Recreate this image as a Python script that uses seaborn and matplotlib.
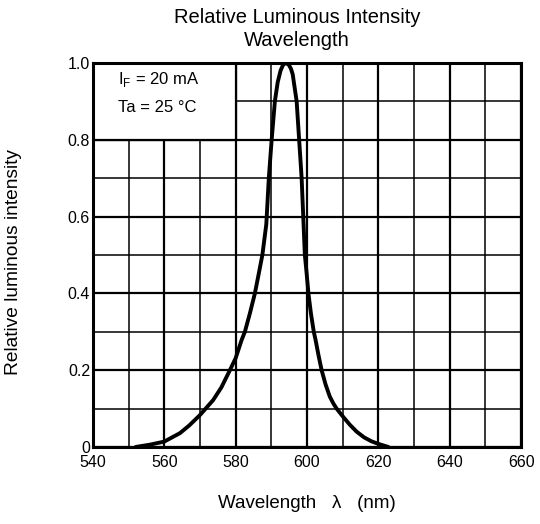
import numpy as np
import pandas as pd
import seaborn as sns
import matplotlib
matplotlib.use('Agg')
import matplotlib.pyplot as plt
from matplotlib.patches import Rectangle

# values
wavelength = [552, 556, 560, 562, 564.4, 567, 570, 573.7, 576, 578.4, 580, 581.7,
              582.6, 584.0, 585.4, 586.5, 587.5, 588.6, 589.3, 590.1, 591.0, 591.8,
              592.6, 593.3, 594.1, 594.9, 595.5, 596.0, 597.1, 597.8, 598.5, 598.95,
              599.4, 599.9, 600.4, 601.1, 601.9, 602.4, 603.2, 604.1, 605.2, 606.4,
              607.4, 608.3, 610, 612, 613.9, 616, 618, 620, 622.8]
intensity = [0, 0.006, 0.014, 0.024, 0.036, 0.056, 0.083, 0.122, 0.155, 0.20, 0.231, 0.279,
             0.30, 0.348, 0.40, 0.452, 0.50, 0.58, 0.70, 0.80, 0.90, 0.95,
             0.98, 0.995, 1.0, 0.995, 0.985, 0.97, 0.90, 0.80, 0.70, 0.60,
             0.50, 0.452, 0.40, 0.348, 0.30, 0.279, 0.24, 0.20, 0.163, 0.131,
             0.113, 0.10, 0.08, 0.058, 0.04, 0.025, 0.015, 0.008, 0]
x_ticks = [540, 560, 580, 600, 620, 640, 660]
y_ticks = [0, 0.2, 0.4, 0.6, 0.8, 1.0]
y_tick_labels = ['0', '0.2', '0.4', '0.6', '0.8', '1.0']

sns.set_style('white')
plt.rcParams['font.family'] = ['Liberation Sans', 'DejaVu Sans']
plt.rcParams['mathtext.fontset'] = 'custom'
plt.rcParams['mathtext.rm'] = 'Liberation Sans'
plt.rcParams['text.color'] = 'black'
plt.rcParams['axes.labelcolor'] = 'black'
plt.rcParams['xtick.color'] = 'black'
plt.rcParams['ytick.color'] = 'black'

df = pd.DataFrame({'wl': wavelength, 'rel': intensity})

fig = plt.figure(figsize=(5.4, 5.24), dpi=100)
ax = fig.add_axes([0.172, 0.147, 0.793, 0.733])

# grid: major every 20 nm / 0.2, minor every 10 nm / 0.1
for x in np.arange(540, 661, 10):
    ax.axvline(x, color='black', lw=1.6 if x % 20 == 0 else 1.1, zorder=1)
for y in np.arange(0, 1.01, 0.1):
    ax.axhline(y, color='black', lw=1.6 if round(y * 10) % 2 == 0 else 1.1, zorder=1)

# blank panel for the conditions text
ax.add_patch(Rectangle((540, 0.8), 40, 0.2, facecolor='white', edgecolor='black',
                       lw=1.6, zorder=2))

sns.lineplot(data=df, x='wl', y='rel', color='black', lw=2.8, estimator=None,
             ax=ax, zorder=3, solid_joinstyle='round', solid_capstyle='round')

ax.set_xlim(540, 660)
ax.set_ylim(0, 1.0)
ax.set_xticks(x_ticks)
ax.set_yticks(y_ticks)
ax.set_yticklabels(y_tick_labels)
ax.tick_params(length=0, labelsize=11.5)
ax.tick_params(axis='x', pad=6)
ax.tick_params(axis='y', pad=2)
for s in ax.spines.values():
    s.set_linewidth(2.2)
    s.set_color('black')
    s.set_zorder(4)

ax.set_xlabel('Wavelength   λ   (nm)', fontsize=13.5, labelpad=18)
ax.set_ylabel('Relative luminous intensity', fontsize=13.8)
ax.yaxis.set_label_coords(-0.166, 0.482)

ax.text(547, 0.956, r'I$_\mathregular{F}$ = 20 mA', fontsize=12, va='center', zorder=5)
ax.text(547, 0.885, 'Ta = 25 °C', fontsize=12, va='center', zorder=5)

fig.text(0.55, 0.967, 'Relative Luminous Intensity', ha='center', va='center', fontsize=14.5)
fig.text(0.55, 0.923, 'Wavelength', ha='center', va='center', fontsize=14.5)

fig.savefig('out.png', dpi=100)
